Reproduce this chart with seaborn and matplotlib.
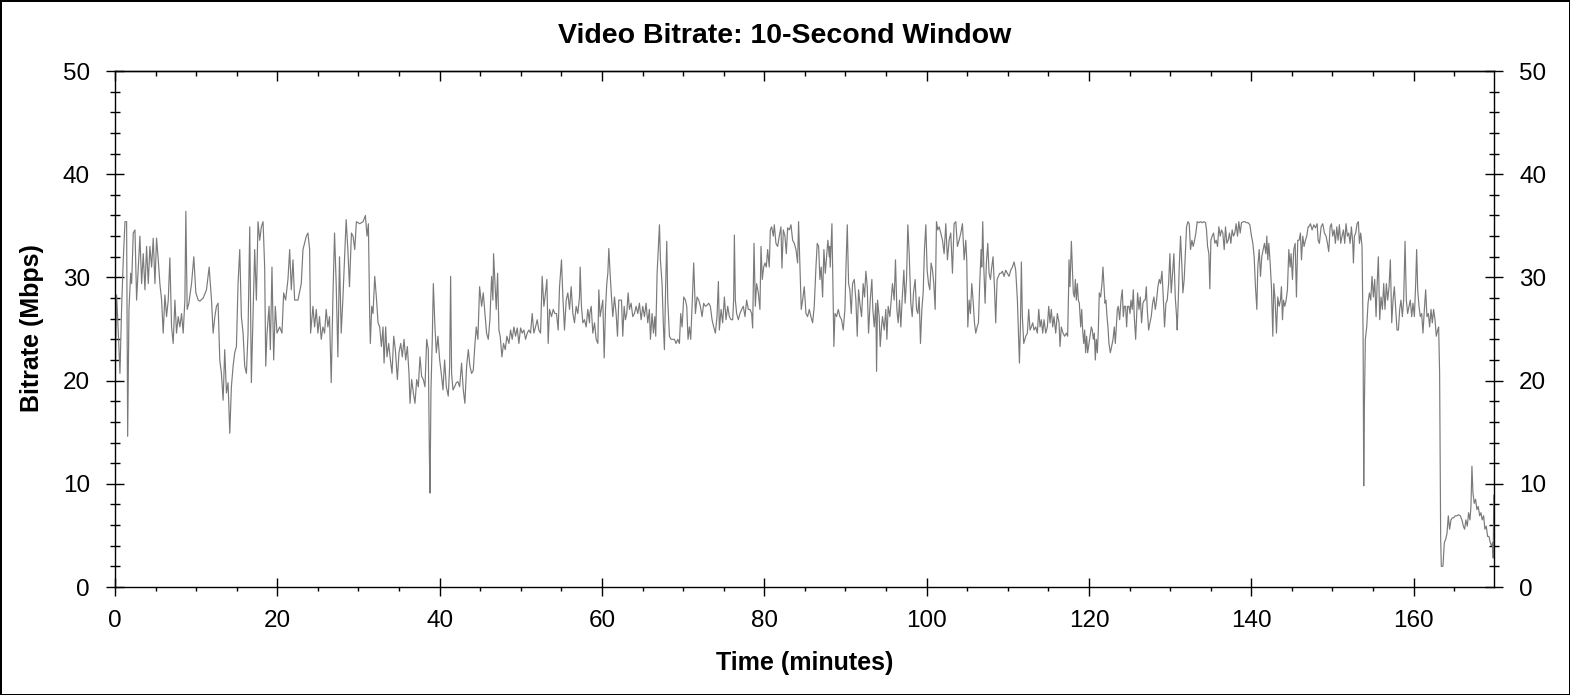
import numpy as np
import pandas as pd
import matplotlib
matplotlib.use("Agg")
import matplotlib.pyplot as plt
from matplotlib.ticker import MultipleLocator
import seaborn as sns

# Bitrate trace in six pieces (minutes, Mbps)
t_part1 = [0.0, 0.2, 0.41, 0.61, 0.82, 1.02, 1.23, 1.43, 1.56, 1.72,
           1.93, 2.05, 2.25, 2.46, 2.66, 2.87, 3.07, 3.28, 3.48, 3.69,
           3.89, 4.1, 4.3, 4.51, 4.71, 4.92, 5.12, 5.33, 5.53, 5.74,
           5.94, 6.15, 6.35, 6.56, 6.76, 6.97, 7.17, 7.38, 7.58, 7.79,
           7.99, 8.2, 8.4, 8.61, 8.73, 8.89, 9.1, 9.43, 9.71, 9.96,
           10.25, 10.45, 10.86, 11.27, 11.6, 11.89, 12.09, 12.3, 12.5, 12.7,
           12.91, 13.11, 13.32, 13.52, 13.73, 13.93, 14.14, 14.34, 14.55, 14.75,
           14.96, 15.16, 15.37, 15.57, 15.78, 15.98, 16.19, 16.39, 16.6, 16.8,
           17.01, 17.21, 17.42, 17.62, 17.83, 18.03, 18.24, 18.44, 18.57, 18.73,
           18.98, 19.14, 19.34, 19.55, 19.75, 19.96, 20.29, 20.57, 20.78, 21.02,
           21.31, 21.52, 21.72, 21.93, 22.13, 22.54, 22.95, 23.16, 23.57, 23.77,
           23.98, 24.1, 24.39, 24.59, 24.8, 25.0, 25.2, 25.41, 25.61, 25.82,
           26.02, 26.23, 26.43, 26.64, 26.84, 27.05, 27.25, 27.46, 27.66, 27.87,
           28.07, 28.48, 28.69, 28.89]
mbps_part1 = [18.8, 28.3, 24.6, 20.7, 27.2, 31.7, 35.4, 35.4, 14.6, 26.9,
              30.4, 29.4, 34.3, 34.6, 27.8, 31.0, 34.0, 29.4, 32.3, 28.8,
              33.0, 29.4, 33.0, 31.0, 33.8, 29.4, 33.8, 31.7, 29.4, 27.8,
              24.6, 28.3, 26.2, 27.8, 31.9, 25.2, 23.6, 27.8, 24.6, 26.2,
              25.2, 26.5, 24.6, 27.8, 36.4, 26.9, 27.5, 29.4, 32.0, 28.5,
              27.8, 27.7, 28.0, 28.8, 31.0, 27.8, 24.6, 26.2, 27.2, 27.5,
              22.0, 20.7, 18.1, 23.0, 18.8, 19.8, 14.9, 19.4, 21.4, 22.7,
              23.3, 29.4, 32.7, 26.2, 24.6, 21.4, 20.7, 24.6, 34.9, 19.8,
              26.2, 32.7, 27.8, 35.4, 33.6, 34.9, 35.4, 31.0, 21.4, 24.6,
              27.2, 23.0, 31.0, 22.0, 27.2, 24.6, 25.2, 24.6, 28.5, 27.8,
              29.8, 32.7, 28.8, 31.7, 27.8, 27.8, 29.4, 32.7, 34.0, 34.3,
              32.7, 24.6, 27.2, 25.2, 26.9, 24.6, 26.2, 24.0, 25.2, 24.6,
              26.9, 25.2, 26.2, 19.8, 27.8, 34.3, 29.4, 22.3, 32.0, 24.6,
              27.8, 35.6, 32.7, 29.1]

t_part2 = [28.92, 29.13, 29.33, 29.54, 29.74, 30.15, 30.56, 30.85, 31.05, 31.22,
           31.38, 31.46, 31.63, 31.79, 32.0, 32.2, 32.41, 32.61, 32.82, 33.02,
           33.15, 33.35, 33.51, 33.72, 33.93, 34.13, 34.34, 34.54, 34.79, 34.99,
           35.2, 35.4, 35.61, 35.81, 36.02, 36.22, 36.35, 36.55, 36.76, 36.96,
           37.17, 37.37, 37.58, 37.78, 37.99, 38.19, 38.4, 38.6, 38.73, 38.81,
           38.93, 39.09, 39.22, 39.42, 39.59, 39.79, 40.0, 40.2, 40.41, 40.61,
           40.82, 41.06, 41.23, 41.35, 41.47, 41.64, 41.84, 42.05, 42.25, 42.46,
           42.7, 42.91, 43.11, 43.32, 43.53, 43.73, 43.94, 44.14, 44.35, 44.51,
           44.71, 44.92, 45.17, 45.37, 45.58, 45.78, 45.99, 46.19, 46.4, 46.56,
           46.64, 46.81, 46.97, 47.14, 47.3, 47.46, 47.67, 47.87, 48.08, 48.28,
           48.53, 48.74, 48.94, 49.15, 49.35, 49.56, 49.76, 49.97, 50.17, 50.38,
           50.58, 50.79, 50.99, 51.2, 51.4, 51.61, 51.81, 52.02, 52.22, 52.43,
           52.63, 52.84, 53.04, 53.21, 53.37, 53.54, 53.78, 53.99, 54.19, 54.4,
           54.6, 54.77, 55.01, 55.18, 55.38, 55.59, 55.79, 56.0, 56.2, 56.41,
           56.61, 56.82, 57.02, 57.23, 57.31, 57.47, 57.64, 57.84, 58.05, 58.25,
           58.46]
mbps_part2 = [29.8, 34.3, 34.0, 32.7, 35.4, 35.2, 35.4, 36.0, 34.0, 35.2,
              26.2, 23.6, 27.2, 26.5, 30.1, 28.1, 25.6, 25.2, 23.3, 25.2,
              21.7, 25.2, 22.3, 23.6, 22.0, 20.7, 24.3, 23.0, 20.1, 22.7,
              23.6, 22.3, 24.0, 22.0, 23.3, 20.7, 17.8, 20.1, 18.8, 17.8,
              20.1, 19.4, 22.3, 20.4, 20.1, 19.4, 24.0, 23.0, 13.0, 9.1,
              19.1, 24.0, 29.4, 25.2, 22.7, 24.3, 22.0, 20.7, 19.1, 22.0,
              19.4, 18.5, 21.4, 30.1, 20.7, 19.1, 19.4, 19.8, 19.9, 19.4,
              21.7, 19.1, 17.8, 21.4, 23.0, 21.4, 20.7, 21.0, 23.6, 25.2,
              24.0, 29.1, 27.2, 28.5, 26.5, 24.6, 24.0, 25.9, 30.1, 27.8,
              32.3, 29.4, 26.9, 30.4, 24.9, 24.3, 22.3, 23.6, 23.0, 24.3,
              23.6, 24.9, 24.0, 25.2, 24.3, 25.1, 23.6, 25.1, 24.6, 24.9,
              24.0, 24.6, 24.9, 24.6, 26.5, 24.6, 25.2, 25.9, 24.9, 24.6,
              30.1, 27.2, 28.5, 29.8, 23.6, 26.9, 26.2, 26.9, 26.5, 26.5,
              24.9, 29.1, 31.7, 28.1, 24.9, 27.8, 28.5, 26.9, 29.1, 26.5,
              25.6, 27.2, 26.5, 28.1, 31.0, 27.2, 25.6, 25.9, 25.2, 26.9,
              25.6]

t_part3 = [58.5, 58.67, 58.87, 59.08, 59.28, 59.49, 59.61, 59.77, 59.98, 60.1,
           60.27, 60.43, 60.59, 60.72, 60.84, 61.0, 61.17, 61.33, 61.54, 61.74,
           61.91, 62.07, 62.23, 62.4, 62.56, 62.73, 62.89, 63.05, 63.22, 63.38,
           63.59, 63.79, 64.0, 64.2, 64.41, 64.61, 64.82, 65.02, 65.23, 65.43,
           65.64, 65.84, 65.97, 66.17, 66.34, 66.5, 66.62, 66.79, 66.95, 67.08,
           67.2, 67.4, 67.57, 67.69, 67.85, 67.98, 68.1, 68.31, 68.51, 68.72,
           68.92, 69.13, 69.33, 69.54, 69.7, 69.87, 70.07, 70.28, 70.44, 70.6,
           70.77, 70.93, 71.1, 71.3, 71.51, 71.71, 71.92, 72.12, 72.33, 72.53,
           72.74, 72.94, 73.15, 73.35, 73.56, 73.76, 73.97, 74.17, 74.34, 74.46,
           74.67, 74.87, 75.08, 75.28, 75.49, 75.69, 75.9, 76.1, 76.22, 76.31,
           76.43, 76.59, 76.8, 77.0, 77.21, 77.41, 77.62, 77.82, 78.03, 78.23,
           78.44, 78.56, 78.73, 78.89, 79.05, 79.26, 79.46, 79.59, 79.75, 79.92,
           80.08, 80.24, 80.41, 80.61, 80.74, 80.9, 81.11, 81.23, 81.43, 81.64,
           81.84, 82.05, 82.17, 82.34, 82.54, 82.71, 82.87, 83.08, 83.28, 83.49,
           83.69, 83.9, 84.1, 84.22, 84.39, 84.55, 84.72, 84.92, 85.13, 85.33,
           85.54, 85.74, 85.95, 86.15, 86.36, 86.52, 86.69, 86.85, 87.01, 87.18,
           87.34, 87.51, 87.67, 87.83, 88.0]
mbps_part3 = [26.5, 27.2, 24.6, 25.6, 24.0, 23.6, 28.8, 26.2, 27.2, 27.8,
              22.2, 26.9, 29.4, 30.4, 32.8, 30.4, 28.1, 26.2, 28.1, 26.5,
              24.3, 27.8, 27.8, 27.8, 24.3, 27.2, 25.9, 26.5, 28.5, 26.9,
              27.5, 26.2, 26.5, 27.2, 26.5, 27.5, 25.9, 27.2, 26.2, 27.5,
              25.6, 26.9, 24.0, 26.5, 24.6, 26.2, 24.3, 30.4, 33.0, 35.1,
              31.7, 29.4, 25.2, 23.0, 29.4, 33.5, 27.8, 24.3, 24.0, 24.0,
              24.0, 23.6, 24.0, 23.6, 26.5, 25.2, 28.1, 27.8, 27.2, 24.0,
              25.2, 24.0, 27.2, 31.4, 26.5, 28.1, 27.8, 27.2, 26.2, 27.5,
              27.2, 27.3, 27.5, 27.2, 25.9, 25.2, 24.6, 26.2, 29.6, 24.9,
              26.9, 25.6, 28.1, 25.9, 27.2, 26.2, 25.9, 25.9, 27.8, 34.1,
              27.8, 26.5, 25.9, 26.5, 26.9, 27.2, 26.2, 27.8, 26.9, 26.9,
              26.5, 25.1, 33.3, 27.2, 29.4, 28.5, 26.9, 33.0, 29.8, 31.0,
              31.4, 31.0, 32.7, 31.0, 34.6, 34.9, 34.0, 35.1, 33.3, 33.0,
              34.0, 34.9, 30.9, 34.6, 34.0, 32.3, 34.8, 34.6, 35.1, 33.6,
              33.3, 32.7, 31.4, 35.4, 31.0, 26.9, 27.8, 29.1, 26.5, 26.2,
              26.9, 26.2, 25.6, 27.2, 31.0, 33.3, 33.0, 29.8, 31.0, 28.1,
              32.7, 30.4, 32.0, 33.6, 32.0]

t_part4 = [88.05, 88.12, 88.33, 88.45, 88.57, 88.7, 88.9, 89.11, 89.31, 89.52,
           89.72, 89.93, 90.05, 90.22, 90.38, 90.54, 90.71, 90.87, 91.08, 91.28,
           91.45, 91.61, 91.77, 91.98, 92.18, 92.35, 92.51, 92.68, 92.84, 93.05,
           93.25, 93.37, 93.54, 93.74, 93.83, 93.95, 94.15, 94.28, 94.44, 94.56,
           94.77, 94.97, 95.1, 95.26, 95.47, 95.63, 95.79, 96.0, 96.16, 96.33,
           96.49, 96.66, 96.82, 96.98, 97.19, 97.35, 97.52, 97.68, 97.85, 98.05,
           98.22, 98.38, 98.58, 98.75, 98.91, 99.08, 99.24, 99.41, 99.57, 99.73,
           99.9, 100.06, 100.23, 100.39, 100.55, 100.72, 100.88, 101.05, 101.21, 101.37,
           101.54, 101.74, 101.95, 102.15, 102.36, 102.56, 102.77, 102.97, 103.18, 103.38,
           103.59, 103.79, 104.0, 104.21, 104.41, 104.62, 104.82, 104.94, 105.07, 105.23,
           105.39, 105.56, 105.72, 105.89, 106.05, 106.22, 106.38, 106.54, 106.71, 106.79,
           106.91, 107.04, 107.2, 107.36, 107.53, 107.69, 107.86, 108.02, 108.18, 108.35,
           108.51, 108.68, 108.84, 109.0, 109.17, 109.33, 109.54, 109.74, 109.95, 110.15,
           110.36, 110.56, 110.77, 110.97, 111.18, 111.3, 111.43, 111.55, 111.67, 111.79,
           111.96, 112.21, 112.41, 112.57, 112.74, 112.9, 113.07, 113.23, 113.44, 113.64,
           113.81, 113.97, 114.13, 114.3, 114.46, 114.67, 114.87, 115.04, 115.2, 115.36,
           115.53, 115.69, 115.9, 116.1, 116.31, 116.43, 116.59, 116.8, 117.0, 117.21,
           117.37, 117.5]
mbps_part4 = [33.0, 31.0, 35.2, 29.4, 23.3, 26.5, 26.2, 26.9, 26.2, 25.9,
              24.9, 26.9, 30.7, 35.1, 29.4, 28.8, 26.5, 29.4, 29.8, 27.8,
              24.3, 28.8, 27.5, 26.2, 29.4, 28.1, 30.6, 29.1, 24.6, 27.8,
              29.8, 26.9, 25.2, 27.5, 20.9, 27.8, 26.2, 23.3, 25.2, 26.2,
              24.9, 26.9, 24.0, 27.2, 26.2, 27.8, 29.4, 27.8, 31.7, 26.9,
              25.6, 27.8, 25.2, 27.8, 30.7, 27.5, 29.8, 35.1, 32.3, 27.5,
              26.2, 28.5, 29.8, 26.9, 26.5, 28.1, 23.6, 26.9, 28.5, 32.7,
              35.1, 30.7, 29.4, 28.8, 31.4, 30.7, 29.4, 26.9, 35.4, 34.6,
              34.9, 34.3, 33.6, 32.3, 35.2, 31.7, 33.6, 34.3, 30.4, 35.2,
              35.4, 33.0, 33.6, 34.3, 35.2, 31.7, 33.6, 31.7, 25.2, 27.8,
              26.5, 29.4, 27.8, 25.6, 24.6, 25.2, 25.6, 29.4, 32.7, 31.0,
              35.4, 31.0, 27.5, 31.4, 33.3, 30.4, 29.8, 31.0, 32.0, 29.1,
              25.6, 29.8, 30.1, 30.4, 30.4, 30.6, 30.1, 30.7, 30.4, 30.1,
              30.7, 31.0, 31.5, 30.7, 27.8, 24.9, 21.7, 25.2, 31.5, 26.2,
              23.6, 24.3, 24.6, 26.9, 24.9, 25.2, 25.6, 24.9, 25.2, 24.6,
              26.9, 25.2, 25.9, 24.6, 25.9, 24.6, 25.2, 27.2, 25.6, 26.9,
              25.2, 26.2, 24.6, 26.5, 25.6, 23.3, 25.2, 24.6, 24.3, 24.6,
              24.3, 29.3]

t_part5 = [117.54, 117.66, 117.83, 117.95, 118.07, 118.2, 118.32, 118.44, 118.57, 118.69,
           118.81, 118.98, 119.1, 119.22, 119.35, 119.47, 119.59, 119.71, 119.84, 120.0,
           120.17, 120.29, 120.41, 120.53, 120.66, 120.78, 120.9, 121.03, 121.15, 121.27,
           121.44, 121.6, 121.72, 121.85, 121.97, 122.09, 122.22, 122.34, 122.46, 122.63,
           122.79, 122.96, 123.12, 123.24, 123.37, 123.49, 123.61, 123.78, 123.94, 124.1,
           124.23, 124.35, 124.51, 124.64, 124.76, 124.92, 125.05, 125.17, 125.33, 125.46,
           125.58, 125.75, 125.87, 125.99, 126.16, 126.32, 126.48, 126.65, 126.81, 126.93,
           127.06, 127.18, 127.35, 127.51, 127.67, 127.84, 128.0, 128.17, 128.33, 128.49,
           128.66, 128.82, 128.99, 129.15, 129.31, 129.48, 129.64, 129.81, 129.97, 130.13,
           130.3, 130.46, 130.63, 130.79, 130.87, 131.0, 131.12, 131.28, 131.45, 131.57,
           131.73, 131.9, 132.02, 132.19, 132.35, 132.51, 132.68, 132.84, 133.01, 133.17,
           133.33, 133.54, 133.75, 133.95, 134.16, 134.36, 134.48, 134.61, 134.77, 134.89,
           135.02, 135.18, 135.35, 135.51, 135.67, 135.84, 136.0, 136.17, 136.33, 136.49,
           136.66, 136.82, 136.99, 137.15, 137.31, 137.48, 137.64, 137.81, 137.97, 138.13,
           138.3, 138.46, 138.63, 138.79, 139.0, 139.2, 139.41, 139.61, 139.82, 140.02,
           140.19, 140.35, 140.51, 140.68, 140.8, 140.97, 141.13, 141.29, 141.46, 141.62,
           141.79, 141.91, 142.03, 142.16, 142.32, 142.48, 142.65, 142.77, 142.93, 143.1,
           143.26, 143.43, 143.59, 143.71, 143.84, 143.96, 144.12, 144.29, 144.45, 144.62,
           144.78, 144.9, 145.07, 145.23, 145.4, 145.56, 145.72, 145.89, 146.05, 146.18,
           146.34, 146.5, 146.67, 146.83, 147.0]
mbps_part5 = [31.7, 29.1, 33.5, 31.0, 28.5, 28.1, 29.8, 27.8, 29.4, 27.8,
              27.5, 25.2, 26.9, 24.9, 23.6, 24.9, 22.7, 24.3, 22.7, 23.6,
              24.6, 25.2, 24.9, 24.0, 24.6, 22.0, 24.0, 22.7, 24.9, 28.5,
              28.1, 29.4, 31.0, 29.1, 27.5, 27.8, 26.2, 25.2, 23.6, 22.7,
              23.3, 24.0, 25.2, 23.6, 25.2, 26.9, 27.2, 25.9, 27.8, 28.8,
              26.2, 27.2, 27.2, 25.2, 27.2, 27.2, 26.5, 27.8, 26.9, 28.8,
              26.2, 24.0, 26.2, 28.5, 26.9, 28.1, 25.6, 27.5, 27.8, 27.8,
              29.1, 26.9, 24.9, 25.6, 26.2, 27.5, 28.1, 26.9, 27.8, 29.1,
              29.8, 29.4, 30.6, 28.1, 25.2, 27.5, 27.8, 29.4, 32.3, 28.5,
              30.4, 32.3, 28.1, 26.2, 24.9, 27.8, 31.0, 34.0, 31.0, 28.5,
              29.8, 32.7, 34.9, 35.4, 35.2, 32.7, 33.6, 33.0, 33.6, 34.3,
              35.4, 35.3, 35.4, 35.3, 35.4, 35.3, 34.6, 33.0, 32.3, 28.9,
              33.6, 34.0, 34.3, 33.3, 33.6, 33.0, 34.9, 34.0, 34.6, 34.3,
              32.7, 34.9, 33.3, 33.6, 34.3, 33.3, 34.6, 34.0, 34.3, 35.2,
              34.0, 35.4, 34.3, 35.3, 35.4, 35.4, 35.3, 35.3, 35.1, 34.0,
              33.3, 32.0, 29.1, 26.9, 31.0, 32.7, 30.1, 32.0, 32.7, 33.3,
              32.3, 34.0, 31.7, 33.3, 31.4, 29.1, 24.3, 29.4, 27.8, 24.6,
              28.1, 27.2, 27.8, 29.1, 25.9, 27.8, 27.2, 27.8, 28.8, 32.7,
              31.0, 32.3, 29.8, 32.7, 33.3, 28.1, 33.6, 33.6, 34.3, 31.7,
              34.0, 33.0, 33.6, 34.0, 34.9]

t_part6 = [147.08, 147.29, 147.49, 147.7, 147.9, 148.11, 148.23, 148.39, 148.6, 148.8,
           149.01, 149.21, 149.38, 149.54, 149.71, 149.87, 150.03, 150.2, 150.36, 150.53,
           150.69, 150.85, 151.02, 151.18, 151.35, 151.51, 151.67, 151.84, 152.0, 152.17,
           152.33, 152.5, 152.58, 152.7, 152.86, 153.03, 153.19, 153.32, 153.48, 153.64,
           153.77, 153.85, 153.93, 154.05, 154.22, 154.38, 154.55, 154.71, 154.87, 155.04,
           155.2, 155.37, 155.49, 155.65, 155.82, 155.98, 156.15, 156.31, 156.47, 156.64,
           156.8, 156.97, 157.13, 157.3, 157.46, 157.62, 157.79, 157.95, 158.12, 158.28,
           158.44, 158.61, 158.77, 158.94, 159.1, 159.26, 159.43, 159.59, 159.76, 159.92,
           160.09, 160.25, 160.37, 160.5, 160.66, 160.82, 160.99, 161.15, 161.32, 161.48,
           161.64, 161.81, 161.97, 162.14, 162.3, 162.46, 162.63, 162.79, 162.96, 163.08,
           163.2, 163.33, 163.41, 163.61, 163.78, 163.94, 164.11, 164.27, 164.43, 164.6,
           164.76, 164.93, 165.13, 165.34, 165.54, 165.75, 165.95, 166.12, 166.28, 166.44,
           166.61, 166.77, 166.94, 167.06, 167.18, 167.31, 167.47, 167.63, 167.8, 167.96,
           168.13, 168.29, 168.45, 168.62, 168.78, 168.95, 169.11, 169.28, 169.44, 169.6,
           169.73, 169.8, 169.87]
mbps_part6 = [34.9, 35.2, 34.6, 35.1, 34.8, 35.2, 33.6, 33.3, 34.9, 35.2,
              34.3, 34.0, 33.3, 32.5, 34.9, 35.2, 34.0, 34.6, 33.3, 34.9,
              33.6, 35.1, 33.3, 34.0, 34.6, 33.3, 35.2, 34.0, 34.3, 33.3,
              34.9, 33.3, 31.4, 34.0, 34.3, 35.2, 35.4, 33.3, 34.3, 33.0,
              24.6, 9.8, 17.5, 24.0, 25.2, 27.5, 28.5, 27.8, 30.1, 28.1,
              29.8, 26.2, 29.1, 32.0, 25.9, 28.1, 26.9, 29.4, 26.9, 29.4,
              27.8, 29.1, 31.7, 25.6, 27.8, 29.1, 26.9, 24.9, 24.9, 26.9,
              27.8, 26.2, 27.8, 33.5, 27.8, 26.5, 27.2, 27.8, 26.2, 27.5,
              26.2, 29.4, 32.7, 28.8, 27.2, 26.2, 26.5, 24.6, 26.9, 28.8,
              26.2, 26.5, 25.2, 26.9, 25.6, 26.9, 25.9, 24.3, 24.9, 25.2,
              20.7, 4.6, 2.0, 2.0, 4.3, 4.6, 5.2, 6.9, 5.6, 6.5,
              6.7, 6.7, 6.9, 6.9, 7.0, 6.9, 6.5, 5.9, 5.6, 6.5,
              5.9, 7.2, 6.5, 7.8, 11.7, 9.1, 8.1, 8.5, 7.5, 7.8,
              6.9, 7.2, 6.5, 6.9, 5.6, 5.9, 4.9, 4.9, 4.3, 4.0,
              4.3, 2.8, 8.9]

x_ticks = [0, 20, 40, 60, 80, 100, 120, 140, 160]
y_ticks = [0, 10, 20, 30, 40, 50]

df = pd.DataFrame({
    "minutes": np.concatenate([t_part1, t_part2, t_part3, t_part4, t_part5, t_part6]),
    "mbps": np.concatenate([mbps_part1, mbps_part2, mbps_part3, mbps_part4, mbps_part5, mbps_part6]),
})

sns.set_style("white")
plt.rcParams["font.family"] = ["Liberation Sans", "DejaVu Sans"]
plt.rcParams["text.color"] = "black"
plt.rcParams["axes.labelcolor"] = "black"
plt.rcParams["xtick.color"] = "black"
plt.rcParams["ytick.color"] = "black"

fig = plt.figure(figsize=(15.7, 6.95), dpi=100)
fig.patch.set_facecolor("white")
fig.patch.set_edgecolor("black")
fig.patch.set_linewidth(2)
ax = fig.add_axes([115 / 1570, 1 - 587 / 695, (1494 - 115) / 1570, (587 - 71) / 695])

sns.lineplot(data=df, x="minutes", y="mbps", ax=ax, color="#7a7a7a",
             linewidth=0.85, estimator=None, sort=False)

ax.set_xlim(0, 169.9)
ax.set_ylim(0, 50)
ax.set_xticks(x_ticks)
ax.set_yticks(y_ticks)
ax.xaxis.set_minor_locator(MultipleLocator(5))
ax.yaxis.set_minor_locator(MultipleLocator(2))
ax.set_xlabel("")
ax.set_ylabel("")

for side in ["left", "right", "top", "bottom"]:
    ax.spines[side].set_visible(True)
    ax.spines[side].set_color("black")
    ax.spines[side].set_linewidth(1.0)

ax.tick_params(axis="x", which="major", direction="inout", length=13.5, width=1.0,
               pad=9.5, labelsize=17.5, colors="black", top=False, bottom=True)
ax.tick_params(axis="x", which="minor", direction="out", length=3, width=1.0,
               top=False, bottom=True)
ax.tick_params(axis="y", which="major", direction="inout", length=13, width=1.0,
               pad=11.5, labelsize=17.5, colors="black", left=True, right=True,
               labelleft=True, labelright=True)
ax.tick_params(axis="y", which="minor", direction="inout", length=6.5, width=1.0,
               left=True, right=True)

# top axis only carries inward ticks
top = ax.secondary_xaxis("top")
top.set_xticks(x_ticks)
top.xaxis.set_minor_locator(MultipleLocator(5))
top.tick_params(which="major", direction="in", length=7, width=1.0, labeltop=False)
top.tick_params(which="minor", direction="in", length=3.5, width=1.0)
top.spines["top"].set_linewidth(1.0)

fig.text(0.5, 1 - 43.3 / 695, "Video Bitrate: 10-Second Window", ha="center",
         va="baseline", fontsize=20.5, fontweight="bold", color="black")
fig.text((115 + 1494) / 2 / 1570, 1 - 670 / 695, "Time (minutes)", ha="center",
         va="baseline", fontsize=18, fontweight="bold", color="black")
fig.text(32.5 / 1570, 1 - 328.5 / 695, "Bitrate (Mbps)", ha="center", va="center",
         rotation=90, fontsize=18, fontweight="bold", color="black")

fig.savefig("out.png", dpi=100, facecolor="white", edgecolor="black")
